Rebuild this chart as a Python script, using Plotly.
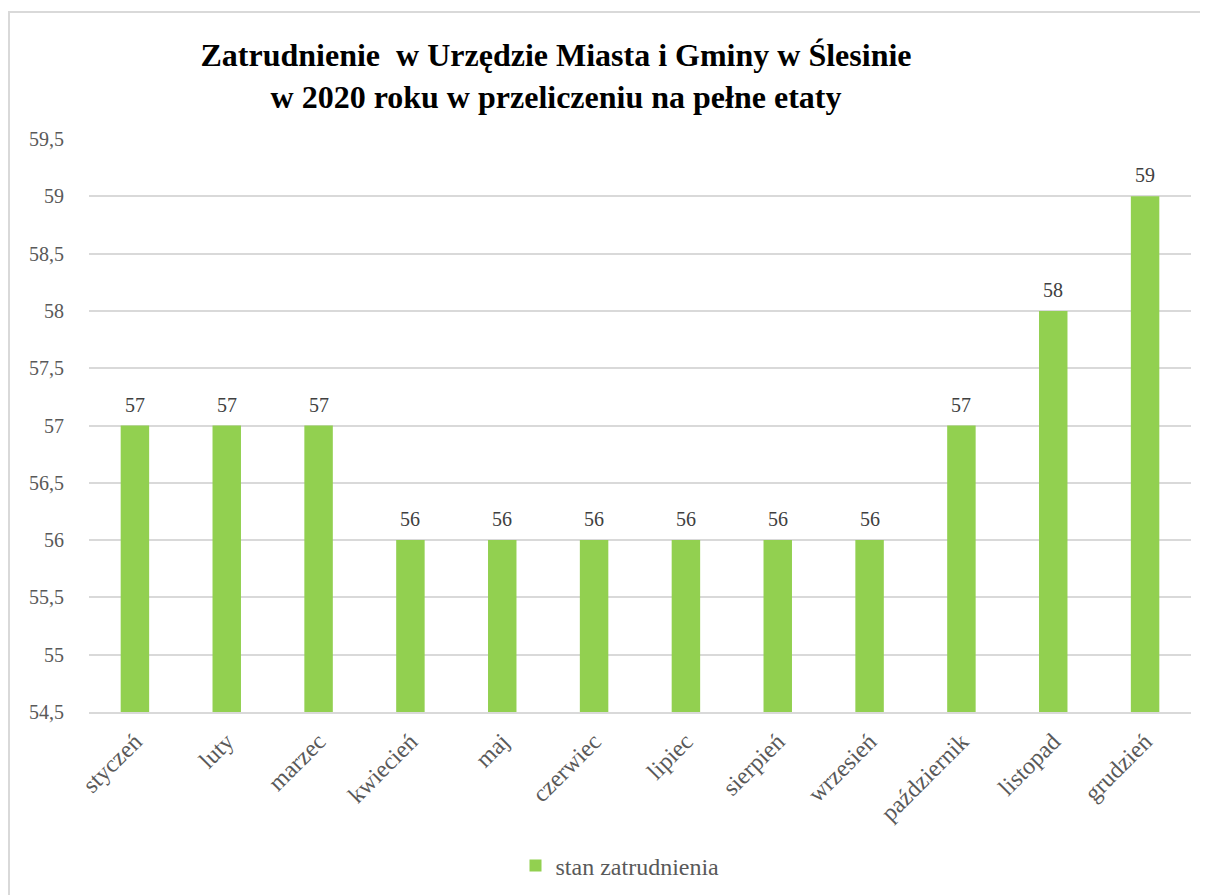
import plotly.graph_objects as go

months = ["styczeń", "luty", "marzec", "kwiecień", "maj", "czerwiec", "lipiec",
          "sierpień", "wrzesień", "październik", "listopad", "grudzień"]
values = [57, 57, 57, 56, 56, 56, 56, 56, 56, 57, 58, 59]
y_ticks = [54.5, 55, 55.5, 56, 56.5, 57, 57.5, 58, 58.5, 59, 59.5]
y_tick_labels = [f"{v:g}".replace(".", ",") for v in y_ticks]

SERIF = "Liberation Serif, Times New Roman, serif"
W, H = 1200, 887
ML, MR, MT, MB = 81, 17, 131, 183
PW, PH = W - ML - MR, H - MT - MB
BOTTOM = H - MB

fig = go.Figure(go.Bar(
    x=months, y=values, name="stan zatrudnienia",
    marker=dict(color="#92D050", line=dict(width=0)),
))

annotations = [
    dict(x=m, y=v, xref="x", yref="y", text=str(v), showarrow=False,
         yanchor="bottom", yshift=8,
         font=dict(family=SERIF, size=20, color="#404040"))
    for m, v in zip(months, values)
]

fig.update_layout(
    width=W, height=H,
    paper_bgcolor="white", plot_bgcolor="white",
    margin=dict(l=ML, r=MR, t=MT, b=MB, autoexpand=False),
    bargap=0.69,
    title=dict(
        text="Zatrudnienie  w Urzędzie Miasta i Gminy w Ślesinie<br>w 2020 roku w przeliczeniu na pełne etaty",
        x=548 / W, xanchor="center", y=1 - 58 / H, yanchor="middle",
        font=dict(family=SERIF, size=32, color="black", weight="bold"),
    ),
    showlegend=True,
    legend=dict(
        orientation="h", x=0.5 - 20 / PW, xanchor="center", y=-(858 - BOTTOM) / PH, yanchor="middle",
        font=dict(family=SERIF, size=24, color="#595959"),
        itemwidth=30,
    ),
    annotations=annotations,
    xaxis=dict(
        tickangle=-45, tickfont=dict(family=SERIF, size=24, color="#595959"),
        showgrid=False, showline=True, linecolor="#D9D9D9", linewidth=2,
        ticks="", ticklen=0, ticklabelstandoff=4, automargin=False,
    ),
    yaxis=dict(
        range=[54.5, 59.5], tickvals=y_ticks, ticktext=y_tick_labels,
        tickfont=dict(family=SERIF, size=20, color="#595959"),
        showgrid=True, gridcolor="#D9D9D9", gridwidth=2,
        zeroline=False, showline=False, ticks="", ticklabelstandoff=24, automargin=False,
    ),
    shapes=[dict(
        type="rect", xref="paper", yref="paper",
        x0=-(ML - 1) / PW, x1=(W - ML + 40) / PW,
        y0=-(H - BOTTOM + 40) / PH, y1=1 + (MT - 4) / PH,
        line=dict(color="#D9D9D9", width=2), fillcolor="rgba(0,0,0,0)", layer="below",
    )],
)

fig.write_html("out.html")
